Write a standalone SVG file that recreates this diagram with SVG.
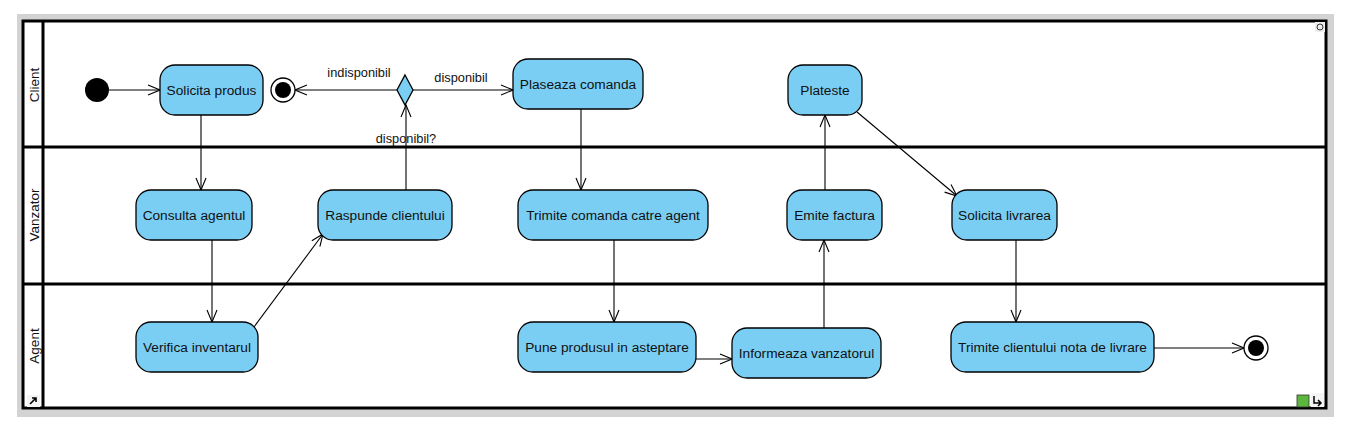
<svg xmlns="http://www.w3.org/2000/svg" width="1356" height="433" viewBox="0 0 1356 433">
<defs>
<style>
.act{fill:#7ACEF4;stroke:#000;stroke-width:1.3}
.t{font-family:"Liberation Sans",Arial,sans-serif;font-size:13.7px;fill:#111;text-anchor:middle;dominant-baseline:central}
.lane{font-family:"Liberation Sans",Arial,sans-serif;font-size:13.5px;fill:#111;text-anchor:middle;dominant-baseline:central}
.lbl{font-family:"Liberation Sans",Arial,sans-serif;font-size:12.8px;fill:#111;text-anchor:middle}
.c{fill:none;stroke:#000;stroke-width:1.1}
.b{fill:none;stroke:#000;stroke-width:3}
</style>
<marker id="ah" viewBox="0 0 14 12" refX="13" refY="6" markerWidth="14" markerHeight="12" markerUnits="userSpaceOnUse" orient="auto">
<path d="M1,1 L13,6 L1,11" fill="none" stroke="#000" stroke-width="1.1"/>
</marker>
</defs>
<rect width="1356" height="433" fill="#fff"/>
<rect x="17" y="14" width="1317" height="403" fill="#d3d3d3"/>
<rect x="23" y="21" width="1303" height="387" fill="#fff"/>
<g id="frame">
<rect x="23" y="21" width="1303" height="387" class="b" stroke-width="2.5"/>
<line x1="43" y1="21" x2="43" y2="408" class="b"/>
<line x1="23" y1="147" x2="1326" y2="147" class="b"/>
<line x1="23" y1="284" x2="1326" y2="284" class="b"/>
<text class="lane" transform="translate(34.5,85) rotate(-90)">Client</text>
<text class="lane" transform="translate(34.5,215) rotate(-90)">Vanzator</text>
<text class="lane" transform="translate(34.5,346) rotate(-90)">Agent</text>
</g>
<g id="icons">
<rect x="1315" y="22" width="10" height="10" fill="#eee"/>
<circle cx="1320" cy="27" r="3" fill="none" stroke="#333" stroke-width="1"/>
<rect x="27" y="395" width="13" height="12" fill="#f4f4f4"/>
<path d="M30,404 L36,398 M32,398 L36,398 L36,402" stroke="#000" stroke-width="1.6" fill="none"/>
<rect x="1297" y="395" width="12" height="12" fill="#5cb83c" stroke="#333" stroke-width="0.8"/>
<rect x="1311" y="393" width="13" height="14" fill="#f4f4f4"/>
<path d="M1314,396 L1314,403 L1321,403 M1318,400 L1321,403 L1318,406" stroke="#000" stroke-width="1.5" fill="none"/>
</g>
<g id="connectors">
<line x1="109" y1="90" x2="160" y2="90" class="c" marker-end="url(#ah)"/>
<line x1="397" y1="90" x2="295" y2="90" class="c" marker-end="url(#ah)"/>
<text class="lbl" x="359" y="77">indisponibil</text>
<line x1="413" y1="90" x2="513" y2="90" class="c" marker-end="url(#ah)"/>
<text class="lbl" x="461" y="82">disponibil</text>
<line x1="406" y1="190" x2="406" y2="105" class="c" marker-end="url(#ah)"/>
<text class="lbl" x="406" y="143">disponibil?</text>
<line x1="201" y1="115" x2="201" y2="190" class="c" marker-end="url(#ah)"/>
<line x1="212" y1="240" x2="212" y2="322" class="c" marker-end="url(#ah)"/>
<line x1="254" y1="327" x2="323" y2="234" class="c" marker-end="url(#ah)"/>
<line x1="581" y1="109" x2="581" y2="190" class="c" marker-end="url(#ah)"/>
<line x1="614" y1="240" x2="614" y2="322" class="c" marker-end="url(#ah)"/>
<line x1="696" y1="359" x2="732" y2="359" class="c" marker-end="url(#ah)"/>
<line x1="824" y1="328" x2="824" y2="240" class="c" marker-end="url(#ah)"/>
<line x1="825" y1="190" x2="825" y2="115" class="c" marker-end="url(#ah)"/>
<line x1="857" y1="112" x2="957" y2="196" class="c" marker-end="url(#ah)"/>
<line x1="1016" y1="240" x2="1016" y2="322" class="c" marker-end="url(#ah)"/>
<line x1="1154" y1="348" x2="1244" y2="348" class="c" marker-end="url(#ah)"/>
</g>
<g id="initial"><circle cx="97" cy="90" r="12" fill="#000"/></g>
<g id="final1"><circle cx="283" cy="90" r="12" fill="#fff" stroke="#000" stroke-width="1.3"/><circle cx="283" cy="90" r="8" fill="#000"/></g>
<g id="decision"><polygon points="405,75 413,90 405,105 397,90" class="act"/></g>
<g id="final2"><circle cx="1256" cy="348" r="12" fill="#fff" stroke="#000" stroke-width="1.3"/><circle cx="1256" cy="348" r="8" fill="#000"/></g>
<g id="solicita-produs"><rect x="160" y="65" width="103" height="50" rx="15" class="act"/><text class="t" x="211.5" y="90">Solicita produs</text></g>
<g id="plaseaza-comanda"><rect x="513" y="59" width="130" height="50" rx="15" class="act"/><text class="t" x="578" y="84">Plaseaza comanda</text></g>
<g id="plateste"><rect x="788" y="65" width="74" height="50" rx="15" class="act"/><text class="t" x="825" y="90">Plateste</text></g>
<g id="consulta-agentul"><rect x="136" y="190" width="116" height="50" rx="15" class="act"/><text class="t" x="194" y="215">Consulta agentul</text></g>
<g id="raspunde-clientului"><rect x="318" y="190" width="134" height="50" rx="15" class="act"/><text class="t" x="385" y="215">Raspunde clientului</text></g>
<g id="trimite-comanda"><rect x="518" y="190" width="190" height="50" rx="15" class="act"/><text class="t" x="613" y="215">Trimite comanda catre agent</text></g>
<g id="emite-factura"><rect x="787" y="190" width="95" height="50" rx="15" class="act"/><text class="t" x="834.5" y="215">Emite factura</text></g>
<g id="solicita-livrarea"><rect x="952" y="190" width="105" height="50" rx="15" class="act"/><text class="t" x="1004.5" y="215">Solicita livrarea</text></g>
<g id="verifica-inventarul"><rect x="136" y="322" width="122" height="50" rx="15" class="act"/><text class="t" x="197" y="347">Verifica inventarul</text></g>
<g id="pune-produsul"><rect x="518" y="322" width="178" height="50" rx="15" class="act"/><text class="t" x="607" y="347">Pune produsul in asteptare</text></g>
<g id="informeaza-vanzatorul"><rect x="732" y="328" width="149" height="50" rx="15" class="act"/><text class="t" x="806.5" y="353">Informeaza vanzatorul</text></g>
<g id="trimite-clientului"><rect x="951" y="322" width="203" height="50" rx="15" class="act"/><text class="t" x="1052.5" y="347">Trimite clientului nota de livrare</text></g>
</svg>
